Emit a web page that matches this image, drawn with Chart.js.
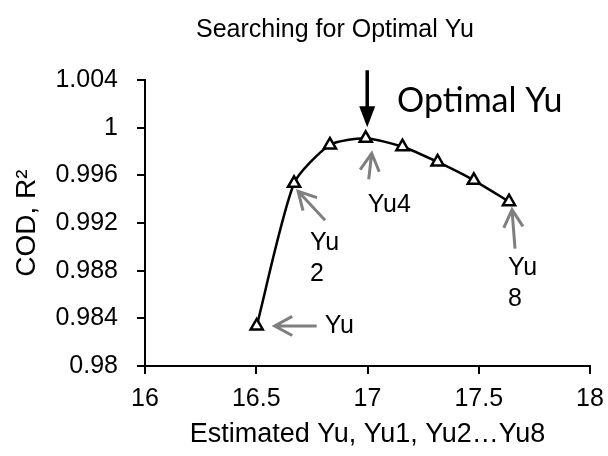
<!DOCTYPE html>
<html>
<head>
<meta charset="utf-8">
<script src="https://cdn.jsdelivr.net/npm/chart.js@4"></script>
<style>
  html, body { margin: 0; padding: 0; background: #fff; }
</style>
</head>
<body>
<canvas id="codChart" width="608" height="456"></canvas>
<script>
// estimated Yu values and their COD (R^2)
const yuValues = [16.502, 16.670, 16.831, 16.992, 17.157, 17.315, 17.478, 17.636]
const codValues = [0.98336, 0.99533, 0.99855, 0.99911, 0.9984, 0.99712, 0.99558, 0.99379]
const xTicks = [16, 16.5, 17, 17.5, 18]
const yTicks = [0.98, 0.984, 0.988, 0.992, 0.996, 1, 1.004]

const sans = "'Liberation Sans', Arial, sans-serif"
const tickFont = { family: sans, size: 25 }

// gray call-outs next to some points (offsets in px from the point)
const notes = [
  { i: 0, lines: ['Yu'], tail: [60, 0], tip: [18, 0], text: [68, 0] },
  { i: 1, lines: ['Yu', '2'], tail: [31, 37], tip: [4, 8], text: [16, 60] },
  { i: 3, lines: ['Yu4'], tail: [3, 41], tip: [6, 15], text: [2, 67] },
  { i: 7, lines: ['Yu', '8'], tail: [6, 47], tip: [3, 8], text: [-1, 66] }
]

function grayArrow(ctx, x1, y1, x2, y2) {
  let ang = Math.atan2(y1 - y2, x1 - x2)
  ctx.beginPath()
  ctx.moveTo(x1, y1)
  ctx.lineTo(x2, y2)
  ctx.moveTo(x2 + 20 * Math.cos(ang - 0.5), y2 + 20 * Math.sin(ang - 0.5))
  ctx.lineTo(x2, y2)
  ctx.lineTo(x2 + 20 * Math.cos(ang + 0.5), y2 + 20 * Math.sin(ang + 0.5))
  ctx.stroke()
}

const annotations = {
  id: 'annotations',
  afterDraw(chart) {
    const ctx = chart.ctx
    const xs = chart.scales.x, ys = chart.scales.y
    ctx.save()

    // title
    ctx.fillStyle = '#000'
    ctx.font = '25px ' + sans
    ctx.textAlign = 'center'
    ctx.textBaseline = 'middle'
    ctx.fillText('Searching for Optimal Yu', 335, 30)

    // gray arrows + labels
    ctx.strokeStyle = '#7f7f7f'
    ctx.lineWidth = 3
    ctx.textAlign = 'left'
    notes.forEach(n => {
      const px = xs.getPixelForValue(yuValues[n.i])
      const py = ys.getPixelForValue(codValues[n.i])
      grayArrow(ctx, px + n.tail[0], py + n.tail[1], px + n.tip[0], py + n.tip[1])
      n.lines.forEach((t, k) => {
        ctx.fillText(t, px + n.text[0], py + n.text[1] + k * 31)
      })
    })

    // black arrow to the optimum
    const ox = xs.getPixelForValue(yuValues[3]) + 1.5
    const oy = ys.getPixelForValue(codValues[3])
    const tipY = oy - 11
    ctx.strokeStyle = '#000'
    ctx.lineWidth = 3.5
    ctx.beginPath()
    ctx.moveTo(ox, oy - 68)
    ctx.lineTo(ox, tipY - 16)
    ctx.stroke()
    ctx.beginPath()
    ctx.moveTo(ox - 8, tipY - 21)
    ctx.lineTo(ox + 8, tipY - 21)
    ctx.lineTo(ox, tipY)
    ctx.closePath()
    ctx.fill()

    ctx.font = "34px Lato, 'Open Sans', sans-serif"
    ctx.textBaseline = 'alphabetic'
    ctx.fillText('Optimal Yu', 397, 112)
    ctx.restore()
  }
}

new Chart(document.getElementById('codChart'), {
  type: 'line',
  data: {
    datasets: [{
      data: yuValues.map((x, k) => ({ x: x, y: codValues[k] })),
      borderColor: '#000',
      borderWidth: 2.5,
      tension: 0.22,
      pointStyle: 'triangle',
      pointRadius: 7,
      pointBorderWidth: 2.5,
      pointBackgroundColor: '#fff',
      pointBorderColor: '#000'
    }]
  },
  options: {
    responsive: false,
    animation: false,
    layout: { padding: { top: 80, right: 18, left: 0, bottom: 0 } },
    plugins: { legend: { display: false }, tooltip: { enabled: false } },
    scales: {
      x: {
        type: 'linear',
        min: 16,
        max: 18,
        afterBuildTicks: s => { s.ticks = xTicks.map(v => ({ value: v })) },
        afterFit: s => { s.height = 90; s.paddingLeft = 0; s.paddingRight = 0 },
        border: { color: '#000', width: 2 },
        grid: { drawOnChartArea: false, color: '#000', lineWidth: 2, tickLength: 8 },
        ticks: { color: '#000', font: tickFont, padding: 10, maxRotation: 0, callback: v => String(v) },
        title: { display: true, text: 'Estimated Yu, Yu1, Yu2…Yu8', color: '#000', font: { family: sans, size: 27 }, padding: { top: 0, bottom: 5 } }
      },
      y: {
        min: 0.98,
        max: 1.004,
        afterBuildTicks: s => { s.ticks = yTicks.map(v => ({ value: v })) },
        afterFit: s => { s.width = 145; s.paddingTop = 0; s.paddingBottom = 0 },
        border: { color: '#000', width: 2 },
        grid: { drawOnChartArea: false, color: '#000', lineWidth: 2, tickLength: 8 },
        ticks: { color: '#000', font: tickFont, padding: 19, callback: v => String(Number(v.toFixed(3))) },
        title: { display: true, text: 'COD, R²', color: '#000', font: { family: sans, size: 28 }, padding: { top: 10, bottom: 0 } }
      }
    }
  },
  plugins: [annotations]
})
</script>
</body>
</html>
